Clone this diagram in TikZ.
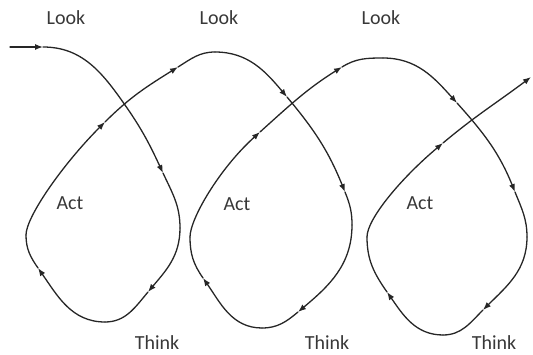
\documentclass[tikz,border=0pt]{standalone}
\usepackage{fontspec}
\setmainfont{Carlito}
\usetikzlibrary{arrows.meta}
\definecolor{linecol}{gray}{0.15}
\definecolor{txtcol}{gray}{0.22}
\tikzset{
  seg/.style={draw=linecol, line width=1.3pt, line cap=round},
  arr/.style={seg, -{Latex[length=8pt,width=6pt]}},
  lbl/.style={text=txtcol, font=\fontsize{20}{24}\selectfont, inner sep=0pt}
}
\begin{document}
\begin{tikzpicture}[x=1pt,y=1pt]
\useasboundingbox (0,0) rectangle (533,354);
% way points
\coordinate (P0) at (10,307);
\coordinate (A1) at (43,307);
\coordinate (C1) at (125,249);
\coordinate (A2) at (163,181);
\coordinate (R1) at (180,126);
\coordinate (A3) at (148,62);
\coordinate (B1) at (105,32);
\coordinate (A4) at (38,86);
\coordinate (L1) at (26,119);
\coordinate (A5) at (105,232);
\coordinate (A6) at (178,287);
\coordinate (T1) at (215,302);
\coordinate (A7) at (287,257);
\coordinate (A8) at (345,162);
\coordinate (R2) at (352,129);
\coordinate (A9) at (298,42);
\coordinate (B2) at (262,26);
\coordinate (A10) at (203,76);
\coordinate (L2) at (190,117);
\coordinate (A11) at (260,222);
\coordinate (A12) at (342,287);
\coordinate (T2) at (383,296);
\coordinate (A13) at (457,251);
\coordinate (A14) at (515,162);
\coordinate (R3) at (527,117);
\coordinate (A15) at (483,44);
\coordinate (B3) at (443,19);
\coordinate (A16) at (387,62);
\coordinate (L3) at (367,117);
\coordinate (A17) at (443,211);
\coordinate (E) at (531,277);
% loop 1
\draw[arr] (P0) to[out=0,in=180] (A1);
\draw[seg] (A1) to[out=0,in=125] (C1);
\draw[arr] (C1) to[out=-55,in=115] (A2);
\draw[seg] (A2) to[out=-65,in=90] (R1);
\draw[arr] (R1) to[out=-90,in=50] (A3);
\draw[seg] (A3) to[out=-130,in=0] (B1);
\draw[arr] (B1) to[out=180,in=-55] (A4);
\draw[seg] (A4) to[out=125,in=-90] (L1);
\draw[arr] (L1) .. controls +(90:18) and +(225:60) .. (A5);
\draw[arr] (A5) to[out=45,in=212] (A6);
\draw[seg] (A6) to[out=32,in=180] (T1);
% loop 2
\draw[arr] (T1) to[out=0,in=130] (A7);
\draw[arr] (A7) to[out=-50,in=112] (A8);
\draw[seg] (A8) to[out=-68,in=90] (R2);
\draw[arr] (R2) to[out=-90,in=40] (A9);
\draw[seg] (A9) to[out=-140,in=0] (B2);
\draw[arr] (B2) to[out=180,in=-55] (A10);
\draw[seg] (A10) to[out=125,in=-90] (L2);
\draw[arr] (L2) .. controls +(90:18) and +(222:55) .. (A11);
\draw[arr] (A11) to[out=42,in=212] (A12);
\draw[seg] (A12) to[out=32,in=180] (T2);
% loop 3
\draw[arr] (T2) to[out=0,in=132] (A13);
\draw[arr] (A13) to[out=-48,in=112] (A14);
\draw[seg] (A14) to[out=-68,in=90] (R3);
\draw[arr] (R3) to[out=-90,in=45] (A15);
\draw[seg] (A15) to[out=-135,in=0] (B3);
\draw[arr] (B3) to[out=180,in=-55] (A16);
\draw[seg] (A16) to[out=125,in=-90] (L3);
\draw[arr] (L3) .. controls +(90:18) and +(220:55) .. (A17);
\draw[arr] (A17) to[out=40,in=217] (E);
% labels
\node[lbl] (look1) at (66,336) {Look};
\node[lbl] (look2) at (219,336) {Look};
\node[lbl] (look3) at (381,336) {Look};
\node[lbl] (act1) at (70,151) {Act};
\node[lbl] (act2) at (237,150) {Act};
\node[lbl] (act3) at (420,151) {Act};
\node[lbl] (think1) at (157,11) {Think};
\node[lbl] (think2) at (327,11) {Think};
\node[lbl] (think3) at (494,11) {Think};
\end{tikzpicture}
\end{document}
